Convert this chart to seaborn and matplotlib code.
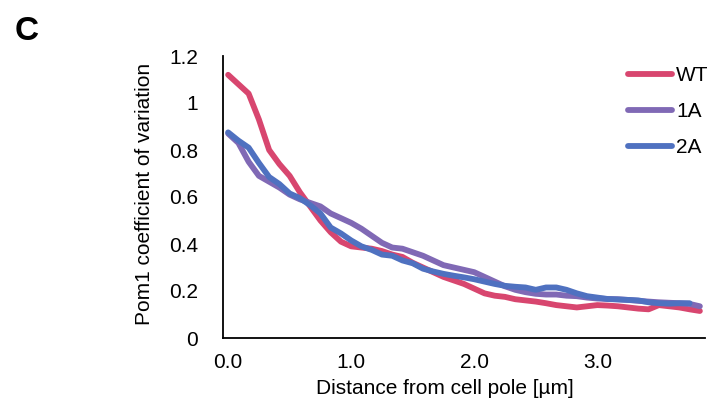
import numpy as np
import pandas as pd
import matplotlib
matplotlib.use("Agg")
import matplotlib.pyplot as plt
from matplotlib.lines import Line2D
import seaborn as sns

# ---- data ----
step_um = 1 / 12  # spacing of the sampled positions along the cell [µm]

wt = [1.12, 1.08, 1.04, 0.93, 0.80, 0.74, 0.69, 0.62, 0.56, 0.50,
      0.45, 0.41, 0.39, 0.385, 0.38, 0.37, 0.355, 0.345, 0.32, 0.30,
      0.28, 0.26, 0.245, 0.23, 0.21, 0.19, 0.18, 0.175, 0.165, 0.16,
      0.155, 0.148, 0.14, 0.135, 0.13, 0.135, 0.14, 0.138, 0.135, 0.13,
      0.125, 0.122, 0.14, 0.135, 0.13, 0.122, 0.115]
a1 = [0.87, 0.83, 0.75, 0.69, 0.665, 0.64, 0.61, 0.59, 0.575, 0.56,
      0.53, 0.51, 0.49, 0.465, 0.435, 0.405, 0.385, 0.38, 0.365, 0.35,
      0.33, 0.31, 0.30, 0.29, 0.28, 0.26, 0.24, 0.22, 0.205, 0.195,
      0.188, 0.185, 0.185, 0.18, 0.178, 0.172, 0.168, 0.166, 0.165, 0.162,
      0.158, 0.155, 0.152, 0.15, 0.148, 0.145, 0.135]
a2 = [0.875, 0.84, 0.81, 0.745, 0.685, 0.655, 0.615, 0.595, 0.565, 0.53,
      0.47, 0.445, 0.415, 0.39, 0.375, 0.355, 0.35, 0.33, 0.318, 0.295,
      0.283, 0.273, 0.265, 0.258, 0.25, 0.24, 0.23, 0.222, 0.218, 0.215,
      0.205, 0.215, 0.215, 0.205, 0.19, 0.178, 0.172, 0.166, 0.164, 0.162,
      0.16, 0.152, 0.148, 0.146, 0.148, 0.148]

series_names = ["WT", "1A", "2A"]
series_values = [wt, a1, a2]
colors = ["#D8466F", "#8069B5", "#4F71C0"]

x_tick_values = [0, 1, 2, 3]
x_tick_labels = ["0.0", "1.0", "2.0", "3.0"]
y_tick_values = [0, 0.2, 0.4, 0.6, 0.8, 1.0, 1.2]
y_tick_labels = ["0", "0.2", "0.4", "0.6", "0.8", "1", "1.2"]

rows = []
for name, vals in zip(series_names, series_values):
    for i, v in enumerate(vals):
        rows.append({"dist": i * step_um, "cv": v, "strain": name})
df = pd.DataFrame(rows)

# ---- figure ----
sns.set_style("white")
plt.rcParams["font.family"] = ["Liberation Sans", "DejaVu Sans"]
plt.rcParams["text.color"] = "black"
plt.rcParams["axes.labelcolor"] = "black"

W, H = 711, 401
FS = 15
fig = plt.figure(figsize=(W / 100, H / 100), dpi=100)
ax = fig.add_axes([223 / W, 1 - 338 / H, (705 - 223) / W, (338 - 56) / H])

palette = dict(zip(series_names, colors))
sns.lineplot(data=df, x="dist", y="cv", hue="strain", palette=palette,
             hue_order=series_names, linewidth=4.2, legend=False, ax=ax,
             solid_capstyle="round", solid_joinstyle="round")

n_cat = len(wt)
ax.set_xlim(-0.5 * step_um, (n_cat - 0.5) * step_um)
ax.set_ylim(0, 1.2)

# labels under category centres, tick marks on category boundaries (Excel-like)
ax.set_xticks(x_tick_values)
ax.set_xticklabels(x_tick_labels)
ax.tick_params(axis="x", which="major", length=0, pad=11, labelsize=FS,
               colors="black")
ax.set_xticks([(13 * k - 0.5) * step_um for k in (1, 2, 3)], minor=True)
ax.tick_params(axis="x", which="minor", direction="in", length=4, width=1.3,
               color="black")

ax.set_yticks(y_tick_values)
ax.set_yticklabels(y_tick_labels)
ax.tick_params(axis="y", which="major", direction="in", length=7, width=1.3,
               pad=18, labelsize=FS, colors="black")

for s in ["top", "right"]:
    ax.spines[s].set_visible(False)
for s in ["left", "bottom"]:
    ax.spines[s].set_color("black")
    ax.spines[s].set_linewidth(1.3)

ax.set_xlabel("")
ax.set_ylabel("")
fig.text(445 / W, 1 - 388 / H, "Distance from cell pole [µm]",
         ha="center", va="center", fontsize=FS, color="black")
fig.text(144 / W, 1 - 194 / H, "Pom1 coefficient of variation",
         ha="center", va="center", rotation=90, fontsize=FS, color="black")
fig.text(27 / W, 1 - 31 / H, "C", ha="center", va="center",
         fontsize=24, fontweight="bold", color="black")

handles = [Line2D([], [], color=c, lw=4.2, solid_capstyle="round")
           for c in colors]
leg = fig.legend(handles, series_names, loc="upper left",
                 bbox_to_anchor=(628 / W, 1 - 66 / H), frameon=False,
                 fontsize=FS, handlelength=2.1, handletextpad=0.2,
                 labelspacing=0.82, borderpad=0, borderaxespad=0)
for t in leg.get_texts():
    t.set_color("black")

fig.savefig("out.png", dpi=100)
